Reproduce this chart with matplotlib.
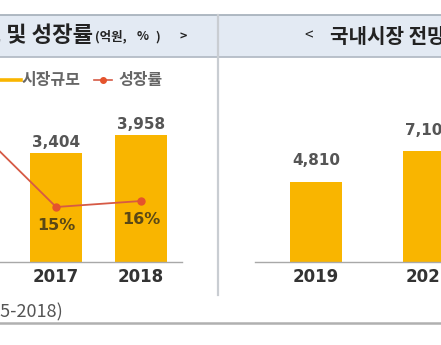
import matplotlib
matplotlib.use("Agg")
import matplotlib.pyplot as plt
from matplotlib.lines import Line2D
from matplotlib.patches import Rectangle

# ---------------- data ----------------
hist_years = ['2016', '2017', '2018']
hist_market = [2960, 3404, 3958]        # 억원 (2016 lies outside the visible crop)
hist_growth = [29, 15, 16]              # %

fc_years = ['2019', '2022']
fc_market = [4810, 7100]                # 억원

left_title_big = '< 국내 시장규모 및 성장률'
left_title_small = ['(억원,', '%', ')', '>']
right_title = '국내시장 전망 (억원) >'
legend_labels = ['시장규모', '성장률']
footnote = '(2015-2018)'

# ---------------- style ----------------
W, H = 441, 345
BAR = '#F9B500'
LINE = '#d65a45'
MARK = '#e5532c'
KR = ['Noto Sans CJK KR', 'DejaVu Sans']
NUM = ['DejaVu Sans']

fig = plt.figure(figsize=(W / 100, H / 100), dpi=100)
fig.patch.set_facecolor('white')


def fx(px):
    return px / W


def fy(py):
    return 1 - py / H


def px2pt(p):
    return p * 0.72


# header band and frame lines
fig.patches.append(Rectangle((0, fy(57)), 1, fy(15) - fy(57), transform=fig.transFigure,
                             facecolor='#e3eaf3', edgecolor='none', zorder=0))
for yy, c, lw in [(15, '#a9b3bd', 1.3), (57, '#b4bcc6', 1.3), (323, '#b0b0b0', 1.8)]:
    fig.lines.append(Line2D([0, 1], [fy(yy), fy(yy)], transform=fig.transFigure,
                            color=c, lw=lw, zorder=1))
fig.lines.append(Line2D([fx(218), fx(218)], [fy(15), fy(295)], transform=fig.transFigure,
                        color='#c9cdd2', lw=1.6, zorder=1))

# header texts
fig.text(fx(93), fy(36), left_title_big, ha='right', va='center', fontsize=16,
         fontweight='bold', family=KR, color='#222222')
for s, xp in zip(left_title_small, [95, 137, 155, 179]):
    fig.text(fx(xp), fy(37), s, ha='left', va='center', fontsize=9,
             fontweight='bold', family=KR, color='#222222')
fig.text(fx(304), fy(36), '<', ha='left', va='center', fontsize=11,
         family=KR, color='#222222')
fig.text(fx(330), fy(36), right_title, ha='left', va='center', fontsize=14.5,
         fontweight='bold', family=KR, color='#222222')

# legend
fig.lines.append(Line2D([fx(-5), fx(21)], [fy(80), fy(80)], transform=fig.transFigure,
                        color=BAR, lw=2.6))
fig.text(fx(22), fy(80), legend_labels[0], ha='left', va='center', fontsize=11.5,
         family=KR, fontweight='bold', color='#666666')
fig.lines.append(Line2D([fx(94), fx(112)], [fy(80), fy(80)], transform=fig.transFigure,
                        color=LINE, lw=1.2))
fig.lines.append(Line2D([fx(103)], [fy(80)], transform=fig.transFigure,
                        marker='o', ms=4, color=MARK, lw=0))
fig.text(fx(118), fy(80), legend_labels[1], ha='left', va='center', fontsize=11.5,
         family=KR, fontweight='bold', color='#666666')

# footnote
fig.text(fx(63), fy(312), footnote, ha='right', va='center', fontsize=13,
         family=KR, color='#555555')


def style(ax):
    ax.set_facecolor('none')
    for s in ['top', 'left', 'right']:
        ax.spines[s].set_visible(False)
    ax.spines['bottom'].set_color('#a8a8a8')
    ax.spines['bottom'].set_linewidth(1.0)
    ax.set_xticks([])
    ax.set_yticks([])


# ---------------- left panel ----------------
base_px = 262
axL = fig.add_axes([fx(-80), fy(base_px), 262 / W, 202 / H])
style(axL)
xL = list(range(len(hist_years)))
axL.bar(xL, hist_market, width=0.61, color=BAR, zorder=2)
axL.set_xlim(-0.6, 2.48)
axL.set_ylim(0, 6295)
for i, (yr, v) in enumerate(zip(hist_years, hist_market)):
    axL.annotate(f'{v:,}', xy=(i, v), xytext=(0, px2pt(10)), textcoords='offset points',
                 ha='center', va='center', fontsize=11, fontweight='bold',
                 family=NUM, color='#555555')
    axL.annotate(yr, xy=(i, 0), xycoords=('data', 'axes fraction'),
                 xytext=(0, -px2pt(15)), textcoords='offset points',
                 ha='center', va='center', fontsize=12, fontweight='bold',
                 family=NUM, color='#333333', annotation_clip=False)

ax2 = axL.twinx()
style(ax2)
ax2.spines['bottom'].set_visible(False)
ax2.set_ylim(15 - 55 / 6, 15 - 55 / 6 + 202 / 6)
ax2.plot(xL, hist_growth, color=LINE, lw=1.3, marker='o', ms=5,
         markerfacecolor=MARK, markeredgecolor=MARK, zorder=3)
for i, g in enumerate(hist_growth):
    ax2.annotate(f'{g}%', xy=(i, g), xytext=(0, -px2pt(18)), textcoords='offset points',
                 ha='center', va='center', fontsize=11.5, fontweight='bold',
                 family=NUM, color='#5a4816')

# ---------------- right panel ----------------
floor = -1200
axR = fig.add_axes([fx(255), fy(base_px), 235 / W, 202 / H])
style(axR)
xR = list(range(len(fc_years)))
axR.bar(xR, [v - floor for v in fc_market], bottom=floor, width=0.46, color=BAR, zorder=2)
axR.set_xlim(-0.54, 1.54)
axR.set_ylim(floor, floor + 202 / 0.013319)
for i, (yr, v) in enumerate(zip(fc_years, fc_market)):
    axR.annotate(f'{v:,}', xy=(i, v), xytext=(0, px2pt(21)), textcoords='offset points',
                 ha='center', va='center', fontsize=11, fontweight='bold',
                 family=NUM, color='#555555', annotation_clip=False)
    axR.annotate(yr, xy=(i, 0), xycoords=('data', 'axes fraction'),
                 xytext=(0, -px2pt(15)), textcoords='offset points',
                 ha='center', va='center', fontsize=12, fontweight='bold',
                 family=NUM, color='#333333', annotation_clip=False)

fig.savefig('out.png', dpi=100, facecolor='white')
